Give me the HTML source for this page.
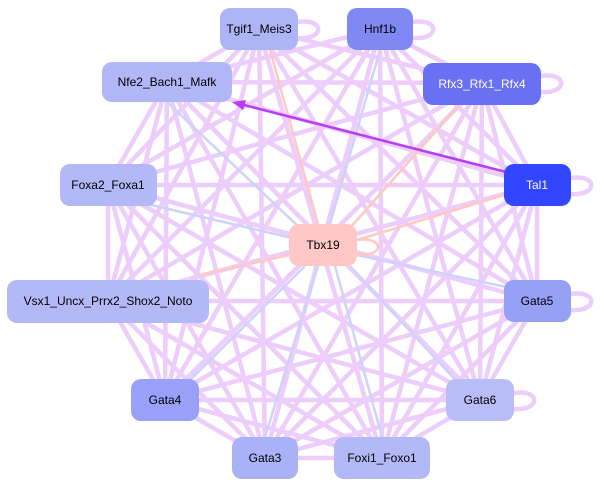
<!DOCTYPE html>
<html><head><meta charset="utf-8"><style>
body{margin:0;background:#fff;width:604px;height:489px;overflow:hidden}
svg{display:block}
text{font-family:"Liberation Sans",sans-serif;font-size:12px;text-anchor:middle;dominant-baseline:central}
</style></head><body>
<svg width="604" height="489" viewBox="0 0 604 489">
<g stroke="#ebcbfb" stroke-width="4.5" fill="none" opacity="0.95">
<line x1="259" y1="29" x2="167" y2="82"/><line x1="259" y1="29" x2="482" y2="83"/><line x1="259" y1="29" x2="108" y2="185"/><line x1="259" y1="29" x2="537" y2="185"/><line x1="259" y1="29" x2="108" y2="301"/><line x1="259" y1="29" x2="537" y2="301"/><line x1="259" y1="29" x2="165" y2="400"/><line x1="259" y1="29" x2="480" y2="400"/><line x1="259" y1="29" x2="265" y2="458"/><line x1="259" y1="29" x2="382" y2="458"/>
<line x1="380" y1="29" x2="167" y2="82"/><line x1="380" y1="29" x2="482" y2="83"/><line x1="380" y1="29" x2="108" y2="185"/><line x1="380" y1="29" x2="537" y2="185"/><line x1="380" y1="29" x2="108" y2="301"/><line x1="380" y1="29" x2="537" y2="301"/><line x1="380" y1="29" x2="165" y2="400"/><line x1="380" y1="29" x2="480" y2="400"/><line x1="380" y1="29" x2="265" y2="458"/><line x1="380" y1="29" x2="382" y2="458"/>
<line x1="167" y1="82" x2="482" y2="83"/><line x1="167" y1="82" x2="108" y2="185"/><line x1="167" y1="82" x2="537" y2="185"/><line x1="167" y1="82" x2="108" y2="301"/><line x1="167" y1="82" x2="537" y2="301"/><line x1="167" y1="82" x2="165" y2="400"/><line x1="167" y1="82" x2="480" y2="400"/><line x1="167" y1="82" x2="265" y2="458"/><line x1="167" y1="82" x2="382" y2="458"/>
<line x1="482" y1="83" x2="108" y2="185"/><line x1="482" y1="83" x2="537" y2="185"/><line x1="482" y1="83" x2="108" y2="301"/><line x1="482" y1="83" x2="537" y2="301"/><line x1="482" y1="83" x2="165" y2="400"/><line x1="482" y1="83" x2="480" y2="400"/><line x1="482" y1="83" x2="265" y2="458"/><line x1="482" y1="83" x2="382" y2="458"/>
<line x1="108" y1="185" x2="537" y2="185"/><line x1="108" y1="185" x2="108" y2="301"/><line x1="108" y1="185" x2="537" y2="301"/><line x1="108" y1="185" x2="165" y2="400"/><line x1="108" y1="185" x2="480" y2="400"/><line x1="108" y1="185" x2="265" y2="458"/><line x1="108" y1="185" x2="382" y2="458"/>
<line x1="537" y1="185" x2="108" y2="301"/><line x1="537" y1="185" x2="537" y2="301"/><line x1="537" y1="185" x2="165" y2="400"/><line x1="537" y1="185" x2="480" y2="400"/><line x1="537" y1="185" x2="265" y2="458"/><line x1="537" y1="185" x2="382" y2="458"/>
<line x1="108" y1="301" x2="537" y2="301"/><line x1="108" y1="301" x2="165" y2="400"/><line x1="108" y1="301" x2="480" y2="400"/><line x1="108" y1="301" x2="265" y2="458"/><line x1="108" y1="301" x2="382" y2="458"/>
<line x1="537" y1="301" x2="165" y2="400"/><line x1="537" y1="301" x2="480" y2="400"/><line x1="537" y1="301" x2="265" y2="458"/><line x1="537" y1="301" x2="382" y2="458"/>
<line x1="165" y1="400" x2="480" y2="400"/><line x1="165" y1="400" x2="265" y2="458"/><line x1="165" y1="400" x2="382" y2="458"/>
<line x1="480" y1="400" x2="265" y2="458"/><line x1="480" y1="400" x2="382" y2="458"/><line x1="265" y1="458" x2="382" y2="458"/>
<path d="M413 22 C440 18 440 40 413 38"/><path d="M541 76 C568 72 568 94 541 92"/><path d="M571 178 C598 174 598 196 571 194"/><path d="M571 294 C598 290 598 312 571 310"/><path d="M514 393 C541 389 541 411 514 409"/><path d="M298 22 C325 18 325 40 298 38"/>
</g>
<g stroke="#cdd3fb" stroke-width="2.5">
<line x1="380" y1="50" x2="330" y2="224"/><line x1="167" y1="102" x2="300" y2="228"/><line x1="130" y1="200" x2="292" y2="238"/><line x1="520" y1="290" x2="357" y2="255"/><line x1="180" y1="390" x2="305" y2="266"/><line x1="265" y1="437" x2="318" y2="266"/><line x1="382" y1="437" x2="335" y2="266"/><line x1="460" y1="385" x2="350" y2="266"/>
</g>
<g stroke="#ffc8c0" stroke-width="2.5">
<line x1="270" y1="50" x2="318" y2="224"/><line x1="350" y1="228" x2="460" y2="104"/><line x1="357" y1="240" x2="504" y2="195"/><line x1="289" y1="255" x2="200" y2="275"/>
</g>
<path d="M357 240 C385 236 385 258 357 254" stroke="#ffc8c0" stroke-width="2.5" fill="none"/>
<line x1="506" y1="172" x2="240" y2="104" stroke="#b93cf5" stroke-width="2.5"/>
<polygon points="232,102 246,100 243,110" fill="#b93cf5"/>
<g>
<rect x="220" y="8" width="78" height="42" rx="10" fill="#aeb5f7"/><text x="259" y="29">Tgif1_Meis3</text>
<rect x="347" y="8" width="66" height="42" rx="10" fill="#7f88f3"/><text x="380" y="29">Hnf1b</text>
<rect x="102" y="62" width="130" height="40" rx="10" fill="#b1b7f6"/><text x="167" y="82">Nfe2_Bach1_Mafk</text>
<rect x="423" y="63" width="118" height="42" rx="10" fill="#6a70f2"/><text x="482" y="84" fill="#fff">Rfx3_Rfx1_Rfx4</text>
<rect x="60" y="164" width="97" height="42" rx="10" fill="#b3b8f7"/><text x="108" y="185">Foxa2_Foxa1</text>
<rect x="504" y="164" width="67" height="42" rx="10" fill="#3346ff"/><text x="537" y="185" fill="#fff">Tal1</text>
<rect x="289" y="224" width="68" height="42" rx="10" fill="#ffc8c6"/><text x="323" y="245">Tbx19</text>
<rect x="7" y="280" width="202" height="43" rx="10" fill="#b3b8f7"/><text x="108" y="301">Vsx1_Uncx_Prrx2_Shox2_Noto</text>
<rect x="504" y="280" width="67" height="42" rx="10" fill="#96a0f5"/><text x="537" y="301">Gata5</text>
<rect x="131" y="379" width="68" height="42" rx="10" fill="#98a0f8"/><text x="165" y="400">Gata4</text>
<rect x="446" y="379" width="68" height="42" rx="10" fill="#b8bdf8"/><text x="480" y="400">Gata6</text>
<rect x="232" y="437" width="66" height="42" rx="10" fill="#aab2f7"/><text x="265" y="458">Gata3</text>
<rect x="334" y="437" width="96" height="42" rx="10" fill="#b3b8f7"/><text x="382" y="458">Foxi1_Foxo1</text>
</g>
</svg>
</body></html>
